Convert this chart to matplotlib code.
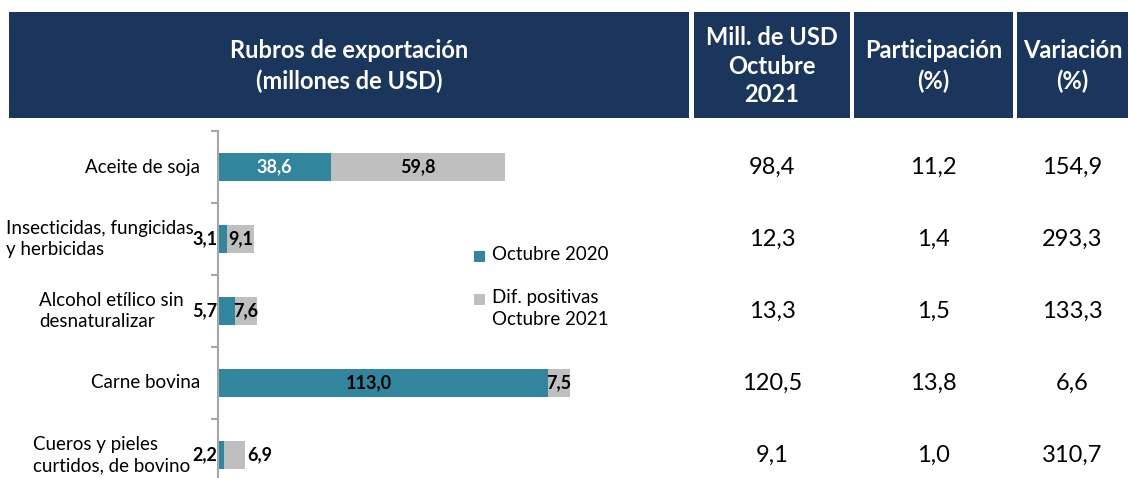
"""Export items table: stacked bars (Oct 2020 + positive difference) and side columns."""
import matplotlib
matplotlib.use("Agg")
import matplotlib.pyplot as plt
from matplotlib.patches import Rectangle
from matplotlib.transforms import blended_transform_factory

# data
categories = [
    "Aceite de soja",
    "Insecticidas, fungicidas\ny herbicidas",
    "Alcohol etílico sin\ndesnaturalizar",
    "Carne bovina",
    "Cueros y pieles\ncurtidos, de bovino",
]
oct_2020 = [38.6, 3.1, 5.7, 113.0, 2.2]
dif_positivas = [59.8, 9.1, 7.6, 7.5, 6.9]
mill_usd_oct_2021 = ["98,4", "12,3", "13,3", "120,5", "9,1"]
participacion = ["11,2", "1,4", "1,5", "13,8", "1,0"]
variacion = ["154,9", "293,3", "133,3", "6,6", "310,7"]

headers = [
    "Rubros de exportación\n(millones de USD)",
    "Mill. de USD\nOctubre\n2021",
    "Participación\n(%)",
    "Variación\n(%)",
]
series_labels = ["Octubre 2020", "Dif. positivas\nOctubre 2021"]

NAVY = "#1B365D"
TEAL = "#31859C"
GRAY = "#BFBFBF"
FONT = ["Lato", "DejaVu Sans"]

W, H = 1128, 478
plt.rcParams["font.family"] = FONT

fig = plt.figure(figsize=(W / 100, H / 100), dpi=100)


def fx(px):
    return px / W


def fy(py):
    return 1 - py / H


# header boxes (pixel extents left, right)
box_cols = [(9, 689), (694, 850), (854, 1013), (1017, 1135)]
box_spacing = [1.4, 1.27, 1.4, 1.4]
box_top, box_bot = 12, 118
for (x0, x1), txt, ls in zip(box_cols, headers, box_spacing):
    fig.patches.append(Rectangle((fx(x0), fy(box_bot)), fx(x1 - x0), (box_bot - box_top) / H,
                                 transform=fig.transFigure, facecolor=NAVY, edgecolor="none"))
    fig.text(fx((x0 + min(x1, W)) / 2), fy((box_top + box_bot) / 2 + 1), txt, color="white",
             fontsize=17, fontweight="bold", ha="center", va="center", linespacing=ls)

# chart axes: top at 131 px, 72 px per category
ax_top, pitch = 131, 72
ax_bot = ax_top + pitch * len(categories)
ax_left, ax_right = 218, 690
ax = fig.add_axes([fx(ax_left), fy(ax_bot), fx(ax_right - ax_left), (ax_bot - ax_top) / H])
px_per_unit = 2.92
ax.set_xlim(0, (ax_right - ax_left) / px_per_unit)
ax.set_ylim(len(categories) - 0.5, -0.5)

ypos = list(range(len(categories)))
bar_h = 0.39
ax.barh(ypos, oct_2020, height=bar_h, color=TEAL)
ax.barh(ypos, dif_positivas, left=oct_2020, height=bar_h, color=GRAY)

fmt = lambda v: f"{v:.1f}".replace(".", ",")
lab_kw = dict(va="center", fontsize=13, fontweight="bold")
for y, a, b in zip(ypos, oct_2020, dif_positivas):
    # teal segment labels
    if a > 20:
        col = "white" if a < 100 else "black"
        ax.text(a / 2 - (5 if a > 100 else 0), y, fmt(a), ha="center", color=col, **lab_kw)
    else:
        ax.text(-0.3, y, fmt(a), ha="right", color="black", **lab_kw)
    # gray segment labels
    if b >= 7:
        ax.text(a + b / 2, y, fmt(b), ha="center", color="black", **lab_kw)
    else:
        ax.text(a + b + 0.8, y, fmt(b), ha="left", color="black", **lab_kw)

# axis styling
for s in ["top", "right", "bottom"]:
    ax.spines[s].set_visible(False)
ax.spines["left"].set_color("#A6A6A6")
ax.spines["left"].set_linewidth(1.5)
ax.set_xticks([])
ax.set_yticks([])
ax.set_yticks([i - 0.5 for i in range(len(categories) + 1)], minor=True)
ax.tick_params(axis="y", which="minor", length=5, width=1.5, color="#A6A6A6")
ax.set_facecolor("none")

# category labels (right edge of each wrapped label, in pixels)
tr = blended_transform_factory(fig.transFigure, ax.transData)
label_right = [200, 194, 184, 200, 190]
for y, cat, xr in zip(ypos, categories, label_right):
    fig.text(fx(xr), y, cat, transform=tr, ha="right", va="center", multialignment="left",
             fontsize=13.5, linespacing=1.3)

# legend: square aligned with the first line of each label
leg_items = [(256, TEAL, series_labels[0]), (299, GRAY, series_labels[1])]
for yc, col, txt in leg_items:
    fig.patches.append(Rectangle((fx(474), fy(yc + 5.5)), fx(11), 11 / H,
                                 transform=fig.transFigure, facecolor=col, edgecolor="none"))
    fig.text(fx(492), fy(yc - 10), txt, ha="left", va="top", fontsize=13.5, linespacing=1.35)

# right-hand columns
col_x = [772, 933, 1072]
for xs, vals in zip(col_x, [mill_usd_oct_2021, participacion, variacion]):
    for y, v in zip(ypos, vals):
        fig.text(fx(xs), y, v, transform=tr, ha="center", va="center", fontsize=17)

fig.savefig("out.png", dpi=100)
